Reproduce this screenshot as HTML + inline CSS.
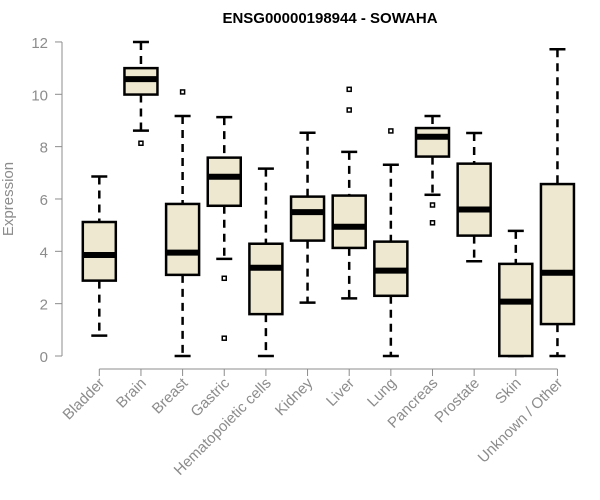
<!DOCTYPE html>
<html><head><meta charset="utf-8"><style>
body{margin:0;background:#fff;}
svg{display:block;font-family:"Liberation Sans",Arial,sans-serif;}
</style></head><body>
<svg id="chart" width="600" height="500">
<text x="330" y="23" text-anchor="middle" font-weight="bold" font-size="15">ENSG00000198944 - SOWAHA</text>
<text transform="translate(13,199) rotate(-90)" text-anchor="middle" font-size="15" fill="#8c8c8c">Expression</text>
<g id="axes"></g><g id="boxes"></g>
</svg>
<script>
const categories=["Bladder","Brain","Breast","Gastric","Hematopoietic cells","Kidney","Liver","Lung","Pancreas","Prostate","Skin","Unknown / Other"];
const lowW=[0.78,8.61,0,3.71,0,2.04,2.2,0,6.16,3.62,0,0];
const q1=[2.88,9.99,3.1,5.74,1.6,4.41,4.13,2.3,7.62,4.6,0,1.22];
const med=[3.86,10.58,3.95,6.85,3.37,5.5,4.94,3.26,8.38,5.6,2.08,3.18];
const q3=[5.12,11.0,5.81,7.58,4.29,6.09,6.13,4.37,8.71,7.35,3.52,6.57];
const highW=[6.86,12,9.17,9.13,7.16,8.53,7.8,7.31,9.17,8.52,4.78,11.72];
const outliers=[[],[8.13],[10.09],[2.97,0.68],[],[],[10.19,9.4],[8.6],[5.77,5.09],[],[],[]];
const yTicks=[0,2,4,6,8,10,12];
const NS="http://www.w3.org/2000/svg";
const y=v=>356-v*26.17;
const x=i=>99.3+i*41.65;
function mk(tag,attrs,parent){const e=document.createElementNS(NS,tag);for(const k in attrs)e.setAttribute(k,attrs[k]);parent.appendChild(e);return e;}
const ax=document.getElementById('axes'),bx=document.getElementById('boxes');
let l=mk('line',{x1:62,x2:62,y1:y(0),y2:y(12),stroke:'#8c8c8c'},ax);


yTicks.forEach(t=>{
 const tk=mk('line',{x1:55,x2:62,y1:y(t),y2:y(t),stroke:'#8c8c8c'},ax);
 
 
 const tx=mk('text',{x:48,y:y(t)+6,'text-anchor':'end','font-size':15,fill:'#8c8c8c'},ax);
 tx.textContent=t;
 
 
});
l=mk('line',{x1:x(0),x2:x(categories.length-1),y1:369,y2:369,stroke:'#8c8c8c'},ax);


categories.forEach((c,i)=>{
 const cx=x(i);
 const tk=mk('line',{x1:cx,x2:cx,y1:369,y2:376,stroke:'#8c8c8c'},ax);
 
 
 const tx=mk('text',{transform:`translate(${cx+6},384) rotate(-45)`,'text-anchor':'end','font-size':15,fill:'#8c8c8c'},ax);
 tx.textContent=c;
 
 
 const g=mk('g',{},bx);
 
 
 mk('line',{x1:cx,x2:cx,y1:y(highW[i]),y2:y(q3[i]),stroke:'#000','stroke-width':2.5,'stroke-dasharray':'8,6'},g);
 mk('line',{x1:cx,x2:cx,y1:y(q1[i]),y2:y(lowW[i]),stroke:'#000','stroke-width':2.5,'stroke-dasharray':'8,6'},g);
 mk('line',{x1:cx-8,x2:cx+8,y1:y(highW[i]),y2:y(highW[i]),stroke:'#000','stroke-width':2.5},g);
 mk('line',{x1:cx-8,x2:cx+8,y1:y(lowW[i]),y2:y(lowW[i]),stroke:'#000','stroke-width':2.5},g);
 mk('rect',{x:cx-16.5,y:y(q3[i]),width:33,height:y(q1[i])-y(q3[i]),fill:'#ede8cf',stroke:'#000','stroke-width':2.5},g);
 mk('line',{x1:cx-16.5,x2:cx+16.5,y1:y(med[i]),y2:y(med[i]),stroke:'#000','stroke-width':6},g);
 outliers[i].forEach(o=>{
  const p=mk('rect',{x:cx-2,y:y(o)-2,width:4,height:4,fill:'#fff',stroke:'#000','stroke-width':1.5},g);
  
  
 });
});
</script>
</body></html>
